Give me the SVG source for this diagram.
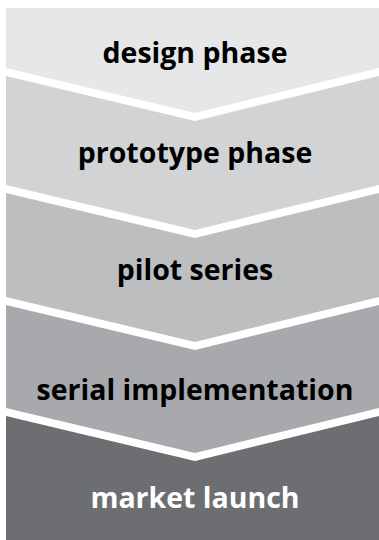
<svg xmlns="http://www.w3.org/2000/svg" width="379" height="540" viewBox="0 0 379 540">
<style>
.lbl{font-family:"Open Sans","Liberation Sans",sans-serif;font-weight:bold;font-size:28.5px;text-anchor:middle;fill:#000}
.w{fill:#fff}
</style>
<rect width="379" height="540" fill="#fff"/>
<g id="design-phase">
<polygon points="6,8 379,8 379,68 195,113 6,68" fill="#e6e7e8"/>
<text class="lbl" x="195" y="63">design phase</text>
</g>
<g id="prototype-phase">
<polygon points="6,76 195,121 379,76 379,185 195,230 6,185" fill="#d1d3d4"/>
<text class="lbl" x="195" y="163">prototype phase</text>
</g>
<g id="pilot-series">
<polygon points="6,193 195,238 379,193 379,297 195,342 6,297" fill="#bcbec0"/>
<text class="lbl" x="195" y="280">pilot series</text>
</g>
<g id="serial-implementation">
<polygon points="6,305 195,350 379,305 379,408 195,453 6,408" fill="#a7a9ac"/>
<text class="lbl" x="195" y="400">serial implementation</text>
</g>
<g id="market-launch">
<polygon points="6,416 195,461 379,416 379,540 6,540" fill="#6d6e71"/>
<text class="lbl w" x="195" y="508">market launch</text>
</g>
<g id="connectors"></g>
</svg>
